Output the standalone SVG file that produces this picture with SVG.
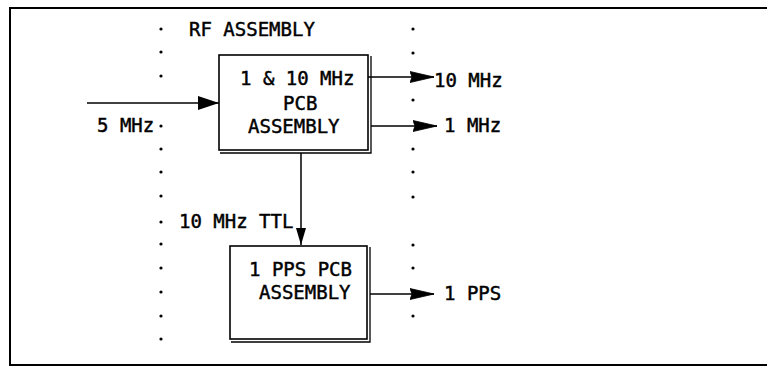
<svg xmlns="http://www.w3.org/2000/svg" width="767" height="367" viewBox="0 0 767 367">
<style>
text{font-family:"DejaVu Sans Mono","Liberation Mono",monospace;font-size:19px;fill:#000;stroke:#000;stroke-width:0.45}
.frame{fill:none;stroke:#000;stroke-width:2}
.box{fill:#fff;stroke:#000;stroke-width:1.6}
.shadow{fill:none;stroke:#000;stroke-width:1.3}
.wire{fill:none;stroke:#000;stroke-width:1.5}
.dot{fill:#000}
</style>
<defs>
<marker id="big" markerUnits="userSpaceOnUse" markerWidth="22" markerHeight="16" refX="21" refY="7" orient="auto">
<path d="M0,0 L21,7 L0,14 Z" fill="#000"/>
</marker>
<marker id="small" markerUnits="userSpaceOnUse" markerWidth="25" markerHeight="14" refX="24" refY="6" orient="auto">
<path d="M0,0.5 L24,6 L0,11.5 L2,6 Z" fill="#000" stroke="#000" stroke-width="0.8"/>
</marker>
<marker id="down" markerUnits="userSpaceOnUse" markerWidth="19" markerHeight="12" refX="17" refY="5" orient="auto">
<path d="M0,0 L17,5 L0,10 Z" fill="#000"/>
</marker>
</defs>
<g id="frame">
<path class="frame" d="M767,8 H10 V365 H767"/>
</g>
<g id="dots-left">
<circle class="dot" cx="161" cy="29" r="1.6"/>
<circle class="dot" cx="161" cy="52" r="1.6"/>
<circle class="dot" cx="161" cy="76" r="1.6"/>
<circle class="dot" cx="161" cy="126" r="1.6"/>
<circle class="dot" cx="161" cy="149" r="1.6"/>
<circle class="dot" cx="161" cy="172" r="1.6"/>
<circle class="dot" cx="161" cy="196" r="1.6"/>
<circle class="dot" cx="161" cy="222" r="1.6"/>
<circle class="dot" cx="161" cy="244" r="1.6"/>
<circle class="dot" cx="161" cy="268" r="1.6"/>
<circle class="dot" cx="161" cy="292" r="1.6"/>
<circle class="dot" cx="161" cy="316" r="1.6"/>
<circle class="dot" cx="161" cy="339" r="1.6"/>
</g>
<g id="dots-right">
<circle class="dot" cx="413" cy="29" r="1.6"/>
<circle class="dot" cx="413" cy="53" r="1.6"/>
<circle class="dot" cx="413" cy="100" r="1.6"/>
<circle class="dot" cx="413" cy="149" r="1.6"/>
<circle class="dot" cx="413" cy="172" r="1.6"/>
<circle class="dot" cx="413" cy="197" r="1.6"/>
<circle class="dot" cx="413" cy="245" r="1.6"/>
<circle class="dot" cx="413" cy="268" r="1.6"/>
<circle class="dot" cx="413" cy="316" r="1.6"/>
</g>
<text x="189" y="36">RF ASSEMBLY</text>
<g id="pcb-1-10">
<rect class="box" x="219" y="55" width="149" height="95"/>
<path class="shadow" d="M371,56 V153 H220"/>
<text x="240" y="85">1 &amp; 10 MHz</text>
<text x="283" y="110">PCB</text>
<text x="248" y="133">ASSEMBLY</text>
</g>
<g id="pcb-1pps">
<rect class="box" x="230" y="246" width="137" height="93"/>
<path class="shadow" d="M370,247 V342 H231"/>
<text x="249" y="276">1 PPS PCB</text>
<text x="259" y="299">ASSEMBLY</text>
</g>
<g id="connectors">
<line class="wire" x1="87" y1="103" x2="219" y2="103" marker-end="url(#big)"/>
<line class="wire" x1="368" y1="77" x2="434" y2="77" marker-end="url(#small)"/>
<line class="wire" x1="371" y1="126" x2="437" y2="126" marker-end="url(#small)"/>
<line class="wire" x1="301" y1="153" x2="301" y2="245" marker-end="url(#down)"/>
<line class="wire" x1="370" y1="294" x2="434" y2="294" marker-end="url(#small)"/>
</g>
<g id="labels">
<text x="97" y="132">5 MHz</text>
<text x="179" y="228">10 MHz TTL</text>
<text x="434" y="87">10 MHz</text>
<text x="444" y="132">1 MHz</text>
<text x="444" y="300">1 PPS</text>
</g>
</svg>
